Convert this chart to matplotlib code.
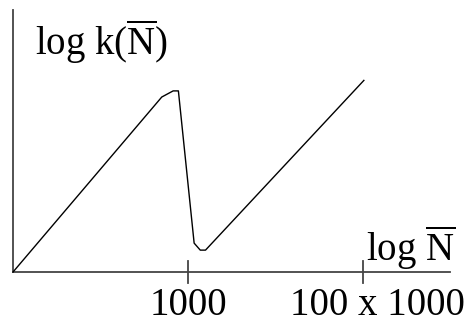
import matplotlib
matplotlib.use('Agg')
import matplotlib.pyplot as plt

plt.rcParams['font.family'] = 'Liberation Serif'
plt.rcParams['mathtext.fontset'] = 'custom'
plt.rcParams['mathtext.rm'] = 'Liberation Serif'
plt.rcParams['mathtext.it'] = 'Liberation Serif'

# curve: log N (x) vs log k (y), arbitrary units
log_n = [1.0, 2.70, 2.83, 2.89, 3.07, 3.14, 3.20, 5.01]
log_k = [0.0, 2.00, 2.07, 2.07, 0.33, 0.25, 0.25, 2.19]

tick_pos = [3, 5]
tick_labels = ['1000', '100 x 1000']

fig = plt.figure(figsize=(4.72, 3.23), dpi=100)
ax = fig.add_axes([0, 0, 1, 1])
ax.set_xlim(0.851, 6.246)
ax.set_ylim(-0.583, 3.109)
ax.axis('off')

# axes drawn by hand
ax.plot([1, 1], [0, 3], color='#444444', lw=1.3)
ax.plot([1, 6], [0, 0], color='#444444', lw=1.3)
for t in tick_pos:
    ax.plot([t, t], [-0.125, 0.125], color='#444444', lw=1.3)

ax.plot(log_n, log_k, color='black', lw=1.0)

fs = 28
ax.text(1.25, 2.48, r'log k($\mathrm{\overline{N}}$)', fontsize=fs, va='baseline', ha='left')
ax.text(6.06, 0.126, r'log $\mathrm{\overline{N}}$', fontsize=fs, va='baseline', ha='right')
ax.text(tick_pos[0], -0.49, tick_labels[0], fontsize=fs, va='baseline', ha='center')
ax.text(5.17, -0.49, tick_labels[1], fontsize=fs, va='baseline', ha='center')

fig.savefig('out.png', dpi=100)
